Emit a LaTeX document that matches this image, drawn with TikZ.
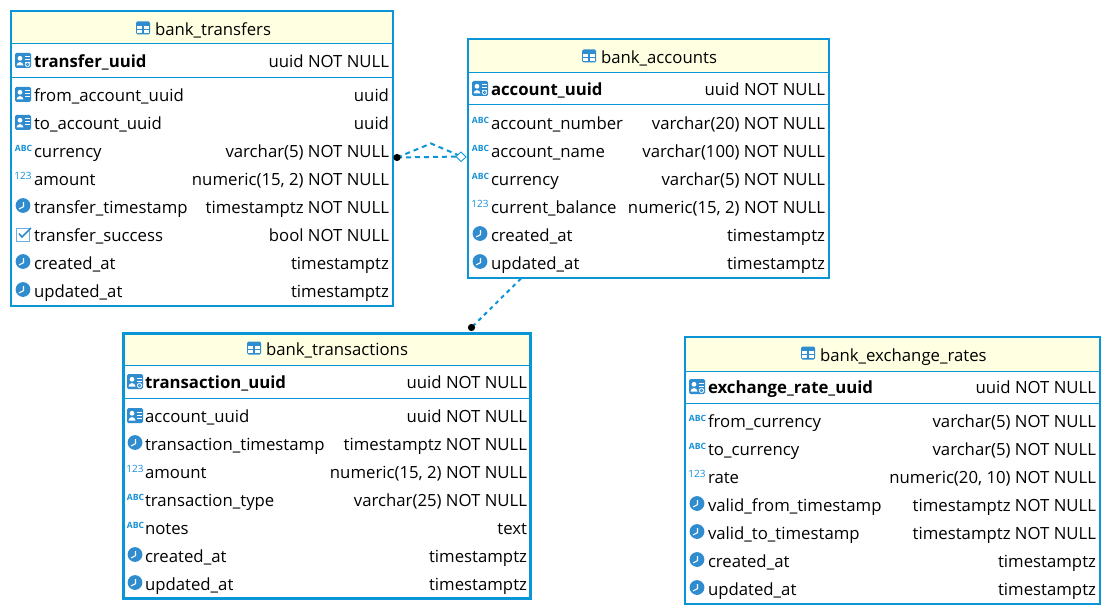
\documentclass[tikz,border=0pt]{standalone}
\usepackage{fontspec}
\setmainfont{Open Sans}
\definecolor{bord}{HTML}{0A96D6}
\definecolor{head}{HTML}{FFFFE1}
\definecolor{ico}{HTML}{2F8CCF}
\definecolor{abc}{HTML}{1590D8}
\newcommand{\tfs}{\fontsize{16.75}{20}\selectfont}
\tikzset{
  x=1pt,y=-1pt,
  tbox/.style={draw=bord,line width=#1,fill=white,rectangle,inner sep=0pt,outer sep=0pt},
  tbox/.default=2.2pt,
  sepline/.style={draw=bord,line width=1.1pt},
  headfill/.style={fill=head},
  coltext/.style={anchor=base west,inner sep=0pt,outer sep=0pt,text=black,font=\tfs},
  typetext/.style={anchor=base east,inner sep=0pt,outer sep=0pt,text=black,font=\tfs},
  relline/.style={draw=bord,line width=2pt,dash pattern=on 5pt off 4pt},
  enddot/.style={fill=black,draw=none},
  opendiamond/.style={draw=bord,fill=white,line width=.8pt},
}
% icons: #1 = left x, #2 = centre y
\newcommand{\ikey}[2]{%
  \fill[ico,rounded corners=1.5pt] (#1,#2-8) rectangle ++(16,15);
  \fill[white] (#1+5,#2-2.7) circle (2.4);
  \fill[white] (#1+1.5,#2+4.5) .. controls (#1+2,#2) and (#1+8,#2) .. (#1+8.5,#2+4.5) -- cycle;
  \draw[white,line width=1pt] (#1+10,#2-4) -- ++(4.5,0) (#1+10,#2-1) -- ++(4.5,0) (#1+10,#2+2) -- ++(4.5,0);}
\newcommand{\ipk}[2]{%
  \ikey{#1}{#2}%
  \fill[white] (#1+12.5,#2+3.5) circle (2.6);
  \draw[ico,line width=.8pt] (#1+12.5,#2+3.5) circle (1.2);}
\newcommand{\iabc}[2]{%
  \node[inner sep=0pt,text=abc,font=\fontsize{8.6}{9}\selectfont\bfseries] at (#1+8.5,#2-2.5) {ABC};}
\newcommand{\inum}[2]{%
  \node[inner sep=0pt,text=abc,font=\fontsize{10}{10}\selectfont] at (#1+8,#2-3) {123};}
\newcommand{\iclock}[2]{%
  \fill[ico] (#1+8,#2-1.5) circle (7.4);
  \draw[white,line width=1.1pt] (#1+8.5,#2-5) -- (#1+8.5,#2-.3) -- (#1+4,#2+2);}
\newcommand{\icheck}[2]{%
  \draw[ico!70,line width=.9pt] (#1+1.5,#2-7) rectangle ++(13,13);
  \draw[ico,line width=1.6pt] (#1+4,#2-1.5) -- (#1+7,#2+2) -- (#1+16,#2-7);}
\newcommand{\itable}[2]{%
  \fill[ico] (#1,#2-6.5) [rounded corners=1.5pt] rectangle ++(14,13);
  \fill[white] (#1+1.2,#2-1.8) rectangle ++(5.2,3);
  \fill[white] (#1+7.6,#2-1.8) rectangle ++(5.2,3);
  \fill[white] (#1+1.2,#2+2.2) rectangle ++(5.2,3);
  \fill[white] (#1+7.6,#2+2.2) rectangle ++(5.2,3);}
% row: id, centre y, icon macro, name, type
\newcommand{\dbrow}[5]{%
  #3{\ix}{#2}%
  \node[coltext] (#1n) at (\tx,#2+6.4) {#4};
  \node[typetext] (#1t) at (\rx,#2+6.4) {#5};}
\newcommand{\dbpk}[5]{%
  #3{\ix}{#2}%
  \node[coltext,font=\tfs\bfseries] (#1n) at (\tx,#2+6.4) {#4};
  \node[typetext] (#1t) at (\rx,#2+6.4) {#5};}
\begin{document}
\begin{tikzpicture}
\useasboundingbox (0,0) rectangle (1111,615);
\fill[white] (0,0) rectangle (1111,615);

% ---- bank_transfers
\node[tbox,minimum width=382pt,minimum height=295pt] (transfers) at (202,158.5) {};
\fill[headfill] (12,12) rectangle (392,43);
\draw[sepline] (11,43.5) -- (393,43.5) (11,77.5) -- (393,77.5);
\itable{136}{28}
\node[coltext] (transfersT) at (155,35.4) {bank\_transfers};
\def\ix{15}\def\tx{34}\def\rx{389}
\dbpk{a0}{61}{\ipk}{transfer\_uuid}{uuid NOT NULL}
\dbrow{a1}{95}{\ikey}{from\_account\_uuid}{uuid}
\dbrow{a2}{123}{\ikey}{to\_account\_uuid}{uuid}
\dbrow{a3}{151}{\iabc}{currency}{varchar(5) NOT NULL}
\dbrow{a4}{179}{\inum}{amount}{numeric(15, 2) NOT NULL}
\dbrow{a5}{207}{\iclock}{transfer\_timestamp}{timestamptz NOT NULL}
\dbrow{a6}{235}{\icheck}{transfer\_success}{bool NOT NULL}
\dbrow{a7}{263}{\iclock}{created\_at}{timestamptz}
\dbrow{a8}{291}{\iclock}{updated\_at}{timestamptz}

% ---- bank_accounts
\node[tbox,minimum width=361pt,minimum height=239pt] (accounts) at (648.5,158.5) {};
\fill[headfill] (469,40) rectangle (828,72);
\draw[sepline] (468,72.5) -- (829,72.5) (468,104.5) -- (829,104.5);
\itable{582}{56}
\node[coltext] (accountsT) at (601,63.4) {bank\_accounts};
\def\ix{472}\def\tx{491}\def\rx{825}
\dbpk{b0}{89}{\ipk}{account\_uuid}{uuid NOT NULL}
\dbrow{b1}{123}{\iabc}{account\_number}{varchar(20) NOT NULL}
\dbrow{b2}{151}{\iabc}{account\_name}{varchar(100) NOT NULL}
\dbrow{b3}{179}{\iabc}{currency}{varchar(5) NOT NULL}
\dbrow{b4}{207}{\inum}{current\_balance}{numeric(15, 2) NOT NULL}
\dbrow{b5}{235}{\iclock}{created\_at}{timestamptz}
\dbrow{b6}{263}{\iclock}{updated\_at}{timestamptz}

% ---- bank_transactions
\node[tbox=3pt,minimum width=407pt,minimum height=265pt] (transactions) at (326.5,465.5) {};
\fill[headfill] (125,335) rectangle (529,365);
\draw[sepline] (123,365.5) -- (530,365.5) (123,398.5) -- (530,398.5);
\itable{247}{348}
\node[coltext] (transactionsT) at (266,355.4) {bank\_transactions};
\def\ix{127}\def\tx{145}\def\rx{527}
\dbpk{c0}{382}{\ipk}{transaction\_uuid}{uuid NOT NULL}
\dbrow{c1}{416}{\ikey}{account\_uuid}{uuid NOT NULL}
\dbrow{c2}{444}{\iclock}{transaction\_timestamp}{timestamptz NOT NULL}
\dbrow{c3}{472}{\inum}{amount}{numeric(15, 2) NOT NULL}
\dbrow{c4}{500}{\iabc}{transaction\_type}{varchar(25) NOT NULL}
\dbrow{c5}{528}{\iabc}{notes}{text}
\dbrow{c6}{556}{\iclock}{created\_at}{timestamptz}
\dbrow{c7}{584}{\iclock}{updated\_at}{timestamptz}

% ---- bank_exchange_rates
\node[tbox,minimum width=415pt,minimum height=267pt] (rates) at (892.5,470.5) {};
\fill[headfill] (686,338) rectangle (1099,371);
\draw[sepline] (685,371.5) -- (1100,371.5) (685,403.5) -- (1100,403.5);
\itable{801}{353}
\node[coltext] (ratesT) at (820,361.4) {bank\_exchange\_rates};
\def\ix{689}\def\tx{708}\def\rx{1096}
\dbpk{d0}{387}{\ipk}{exchange\_rate\_uuid}{uuid NOT NULL}
\dbrow{d1}{421}{\iabc}{from\_currency}{varchar(5) NOT NULL}
\dbrow{d2}{449}{\iabc}{to\_currency}{varchar(5) NOT NULL}
\dbrow{d3}{477}{\inum}{rate}{numeric(20, 10) NOT NULL}
\dbrow{d4}{505}{\iclock}{valid\_from\_timestamp}{timestamptz NOT NULL}
\dbrow{d5}{533}{\iclock}{valid\_to\_timestamp}{timestamptz NOT NULL}
\dbrow{d6}{561}{\iclock}{created\_at}{timestamptz}
\dbrow{d7}{589}{\iclock}{updated\_at}{timestamptz}

% ---- connectors
\coordinate (p1) at (397,157.5);
\coordinate (p2) at (461.5,156.5);
\coordinate (pk) at (431,143.5);
\coordinate (q1) at (521,278.5);
\coordinate (q2) at (471.5,327.5);
\draw[relline] (p1) -- (p2);
\draw[relline] (p1) -- (pk) -- (p2);
\draw[relline,dash pattern=on 4pt off 4pt] (q1) -- (q2);
\fill[enddot] (p1) circle (3.6);
\fill[enddot] (q2) circle (3.6);
\draw[opendiamond] (p2) ++(-5.5,0) -- ++(5,-4.5) -- ++(5,5) -- ++(-5,4.5) -- cycle;
\end{tikzpicture}
\end{document}
